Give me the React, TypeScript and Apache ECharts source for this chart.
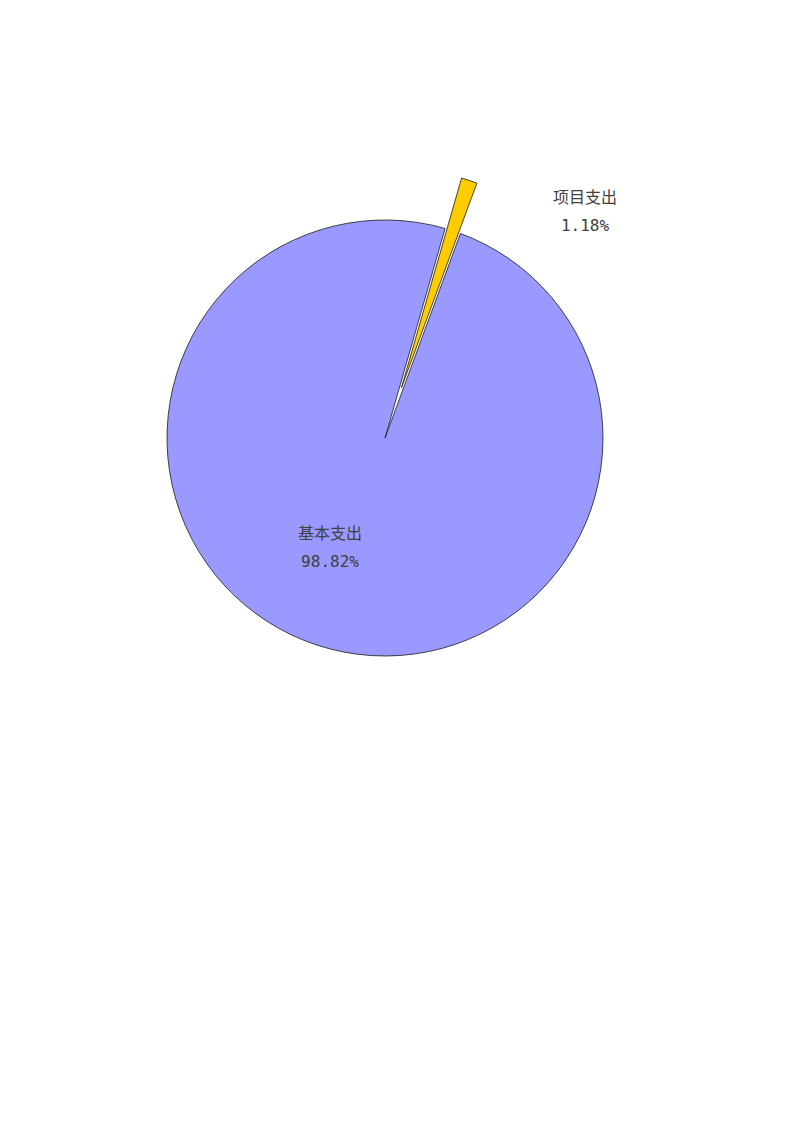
import { useEffect, useRef } from "react";
import * as echarts from "echarts";

const categories = ["项目支出", "基本支出"];
const shares = [1.18, 98.82];
const colors = ["#FFCC00", "#9999FF"];
// label centres, chart coordinates
const labelSpots = [
  [577, 203],
  [322, 539],
];

const labelStyle = {
  show: true,
  position: "inside",
  formatter: (p: any) => `${p.name}\n${p.value.toFixed(2)}%`,
  color: "#404040",
  fontSize: 16,
  lineHeight: 28,
  fontFamily: "'DejaVu Sans Mono', 'Noto Sans CJK SC', monospace",
  align: "center",
};

const placeLabel = (p: any) => ({
  x: labelSpots[p.dataIndex][0],
  y: labelSpots[p.dataIndex][1],
  align: "center",
  verticalAlign: "middle",
});

export default function App() {
  const ref = useRef<HTMLDivElement | null>(null);

  useEffect(() => {
    if (!ref.current) return;
    const chart = echarts.init(ref.current, null, { renderer: "svg" });
    const base = {
      type: "pie",
      center: [377, 430],
      radius: [0, 218],
      startAngle: 74,
      clockwise: true,
      emphasis: { disabled: true },
      labelLine: { show: false },
      labelLayout: placeLabel,
    };
    chart.setOption({
      animation: false,
      series: [
        {
          ...base,
          selectedMode: "single",
          selectedOffset: 53,
          itemStyle: { borderColor: "#1a1a1a", borderWidth: 0.8 },
          label: labelStyle,
          data: categories.map((name, i) => ({
            name,
            value: shares[i],
            selected: i === 0,
            itemStyle: { color: colors[i] },
            label: { show: i !== 0 },
          })),
        },
        {
          // label carrier for the pulled-out slice (selected labels ignore labelLayout)
          ...base,
          silent: true,
          z: 3,
          itemStyle: { color: "transparent", borderWidth: 0 },
          label: labelStyle,
          data: categories.map((name, i) => ({
            name,
            value: shares[i],
            label: { show: i === 0 },
          })),
        },
      ],
    });
    return () => chart.dispose();
  }, []);

  return <div ref={ref} style={{ width: 783, height: 1115 }} />;
}
